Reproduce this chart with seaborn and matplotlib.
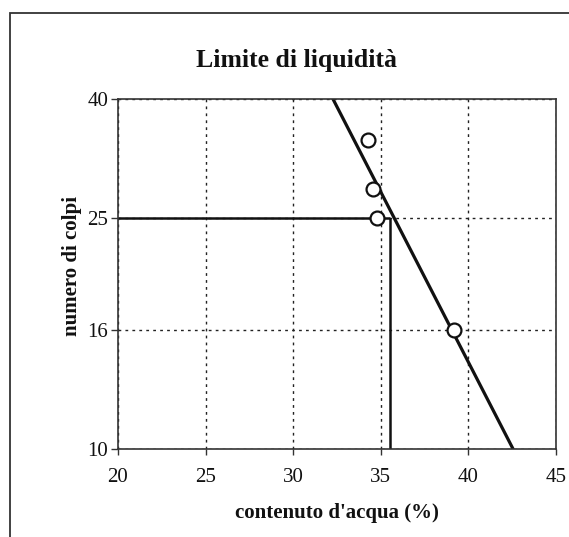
import matplotlib
matplotlib.use("Agg")
import matplotlib.pyplot as plt
import matplotlib.ticker as mticker
from matplotlib.patches import Rectangle
import seaborn as sns
import pandas as pd

# data
water_content = [34.25, 34.55, 34.8, 39.15]
blows = [34.0, 28.0, 25.0, 16.0]
fit_x = [32.27, 42.55]
fit_y = [40, 10]
ll_x = 35.55
ll_y = 25
x_ticks = [20, 25, 30, 35, 40, 45]
y_ticks = [10, 16, 25, 40]

sns.set_theme(style="white")
plt.rcParams['font.family'] = ['Liberation Serif', 'DejaVu Serif']

fig = plt.figure(figsize=(5.69, 5.37), dpi=100)
ax = fig.add_axes([118/569, 1-449/537, (556-118)/569, (449-99)/537])

ax.set_yscale('log')
ax.set_xlim(20, 45)
ax.set_ylim(10, 40)
ax.xaxis.set_major_locator(mticker.FixedLocator(x_ticks))
ax.yaxis.set_major_locator(mticker.FixedLocator(y_ticks))
ax.yaxis.set_minor_locator(mticker.NullLocator())
ax.yaxis.set_major_formatter(mticker.FixedFormatter([str(v) for v in y_ticks]))
ax.xaxis.set_major_formatter(mticker.FixedFormatter([str(v) for v in x_ticks]))

ax.grid(True, which='major', color='#222222', linestyle=(0, (2, 3)), linewidth=1.0)

# reference lines for LL
ax.plot([20, ll_x], [ll_y, ll_y], color='#111111', lw=1.8, solid_capstyle='butt')
ax.plot([ll_x, ll_x], [ll_y, 10], color='#111111', lw=1.8, solid_capstyle='butt')

fit_df = pd.DataFrame({'x': fit_x, 'y': fit_y})
sns.lineplot(data=fit_df, x='x', y='y', ax=ax, color='#111111', lw=2.3, sort=False)

pts = pd.DataFrame({'w': water_content, 'n': blows})
sns.scatterplot(data=pts, x='w', y='n', ax=ax, s=100, facecolor='white',
                edgecolor='#111111', linewidth=1.6, zorder=5, clip_on=False)

for sp in ax.spines.values():
    sp.set_color('#333333')
    sp.set_linewidth(1.2)

ax.tick_params(axis='both', which='major', direction='out', length=5, width=1.0,
               color='#333333', labelsize=15, labelcolor='#111111', pad=2,
               left=True, bottom=True)
ax.tick_params(axis='x', length=4, pad=10)

ax.set_xlabel("contenuto d'acqua (%)", fontsize=15, fontweight='bold', color='#111111')
ax.set_ylabel("numero di colpi", fontsize=15, fontweight='bold', color='#111111')
ax.xaxis.set_label_coords(0.5, (449-503)/350)
ax.yaxis.set_label_coords((82-118)/438, (449-266)/350)

fig.text(297/569, 1-67/537, "Limite di liquidità", ha='center', va='baseline',
         fontsize=18.5, fontweight='bold', color='#111111')

# outer frame (extends beyond the image on right and bottom)
fig.patches.append(Rectangle((10/569, -0.05), 1.2, 1-13/537+0.05, transform=fig.transFigure,
                             fill=False, edgecolor='#333333', lw=1.3))

fig.savefig("out.png", dpi=100)
